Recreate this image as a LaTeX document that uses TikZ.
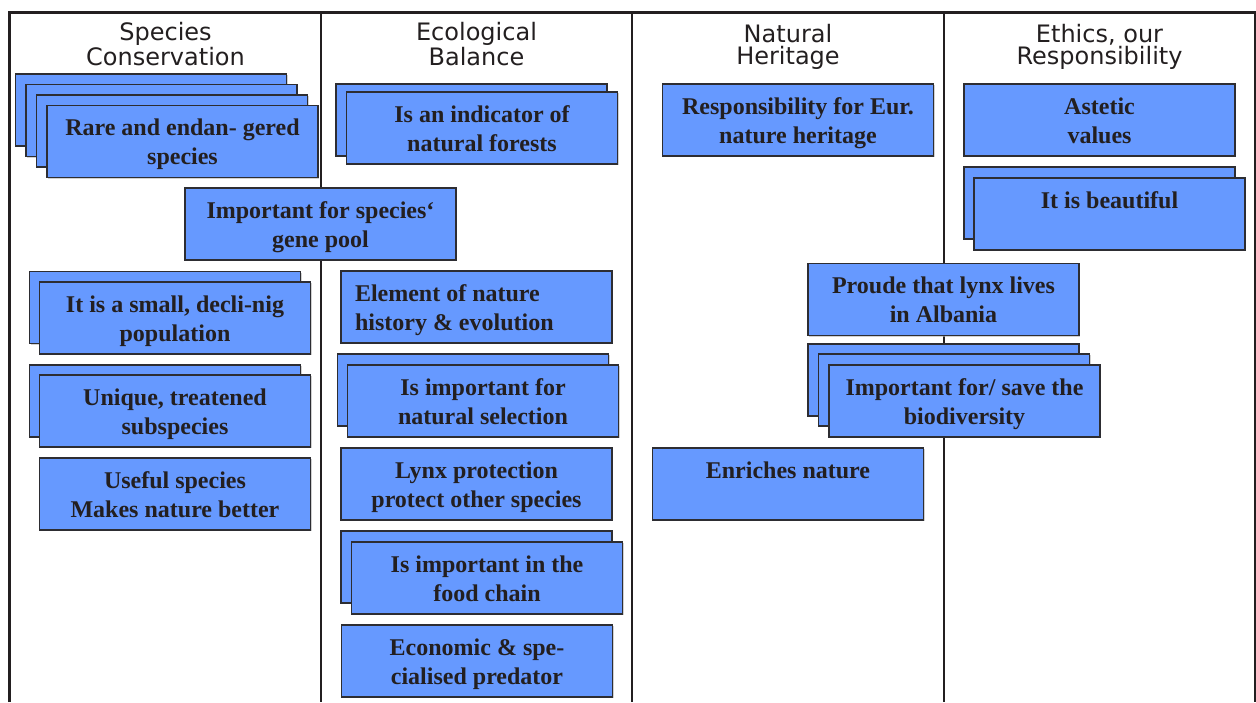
\documentclass[tikz,border=0pt]{standalone}
\usepackage{fontspec}
\setmainfont{Liberation Serif}
\newfontfamily\hdrfont{DejaVu Sans}
\usetikzlibrary{shadows}
\definecolor{boxblue}{RGB}{102,153,255}
\definecolor{boxline}{RGB}{45,45,50}
\definecolor{ink}{RGB}{35,31,32}
\newcommand\cardtop{\rule{0pt}{22.5pt}}
\newcommand\cardbot{\rule[-5.5pt]{0pt}{5.5pt}}
\newcommand\hdrtop{\rule{0pt}{19pt}}
\newcommand\hdrbot{\rule[-6pt]{0pt}{6pt}}
\begin{document}
\begin{tikzpicture}[x=1pt,y=-1pt,
  frame/.style={draw=ink, line width=3pt, line join=miter},
  divider/.style={draw=ink, line width=2pt},
  hdr/.style={font=\hdrfont\fontsize{24}{22}\selectfont, text=ink, align=center, inner sep=0pt},
  card/.style={rectangle, draw=boxline, line width=1.4pt, fill=boxblue,
    minimum width=271pt, minimum height=72pt, inner sep=0pt, align=center, text=ink,
    font=\bfseries\fontsize{24}{29}\selectfont,
    drop shadow={shadow xshift=1.3pt, shadow yshift=-1.3pt, fill=black!30, opacity=0.6}},
  leftcard/.style={card, align=flush left, text width=243pt},
]
\useasboundingbox (0,0) rectangle (1256,702);

% frame and column dividers
\draw[frame] (9,702) -- (9,12) -- (1255,12) -- (1255,702);
\draw[divider] (321,12) -- (321,702);
\draw[divider] (632,12) -- (632,702);
\draw[divider] (944,12) -- (944,702);

% headers
\node[hdr] (h1) at (165.5,46.5) {\hdrtop Species\\Conservation\hdrbot};
\node[hdr] (h2) at (476.5,46.5) {\hdrtop Ecological\\Balance\hdrbot};
\node[hdr] (h3) at (788,46.5) {\hdrtop Natural\\Heritage\hdrbot};
\node[hdr] (h4) at (1099.5,46.5) {\hdrtop Ethics, our\\Responsibility\hdrbot};

% column 1
\node[card] (rareA) at (151,110) {};
\node[card] (rareB) at (161.5,120.5) {};
\node[card] (rareC) at (172,131) {};
\node[card] (rare) at (182.5,141.5) {\cardtop Rare and endan- gered\\species\cardbot};

\node[card] (genepool) at (320.5,224) {\cardtop Important for species‘\\gene pool\cardbot};

\node[card] (smallB) at (165,307.5) {};
\node[card] (small) at (175,318) {\cardtop It is a small, decli-nig\\population\cardbot};

\node[card] (uniqueB) at (165,401) {};
\node[card] (unique) at (175,411) {\cardtop Unique, treatened\\subspecies\cardbot};

\node[card] (useful) at (175,494) {\cardtop Useful species\\Makes nature better\cardbot};

% column 2
\node[card] (indicB) at (471.5,120) {};
\node[card] (indic) at (482,128) {\cardtop Is an indicator of\\natural forests\cardbot};

\node[leftcard] (element) at (476.5,307) {\cardtop Element of nature\\history \& evolution\cardbot};

\node[card] (selectB) at (473,390) {};
\node[card] (select) at (483,401) {\cardtop Is important for\\natural selection\cardbot};

\node[card] (protect) at (476.5,484) {\cardtop Lynx protection\\protect other species\cardbot};

\node[card] (foodB) at (476.5,567) {};
\node[card] (food) at (487,578) {\cardtop Is important in the\\food chain\cardbot};

\node[card] (econ) at (477,661) {\cardtop Economic \& spe-\\cialised predator\cardbot};

% column 3
\node[card] (resp) at (798,120) {\cardtop Responsibility for Eur.\\nature heritage\cardbot};
\node[card] (enrich) at (788,484) {\cardtop Enriches nature\\\cardbot};

\node[card] (proude) at (943.5,299.5) {\cardtop Proude that lynx lives\\in Albania\cardbot};

\node[card] (biodA) at (943.5,380) {};
\node[card] (biodB) at (954,390) {};
\node[card] (biod) at (964.5,401) {\cardtop Important for/ save the\\biodiversity\cardbot};

% column 4
\node[card] (astetic) at (1099.5,120) {\cardtop Astetic\\values\cardbot};
\node[card] (beautB) at (1099.5,203) {};
\node[card] (beaut) at (1109.5,214) {\cardtop It is beautiful\\\cardbot};
\end{tikzpicture}
\end{document}
